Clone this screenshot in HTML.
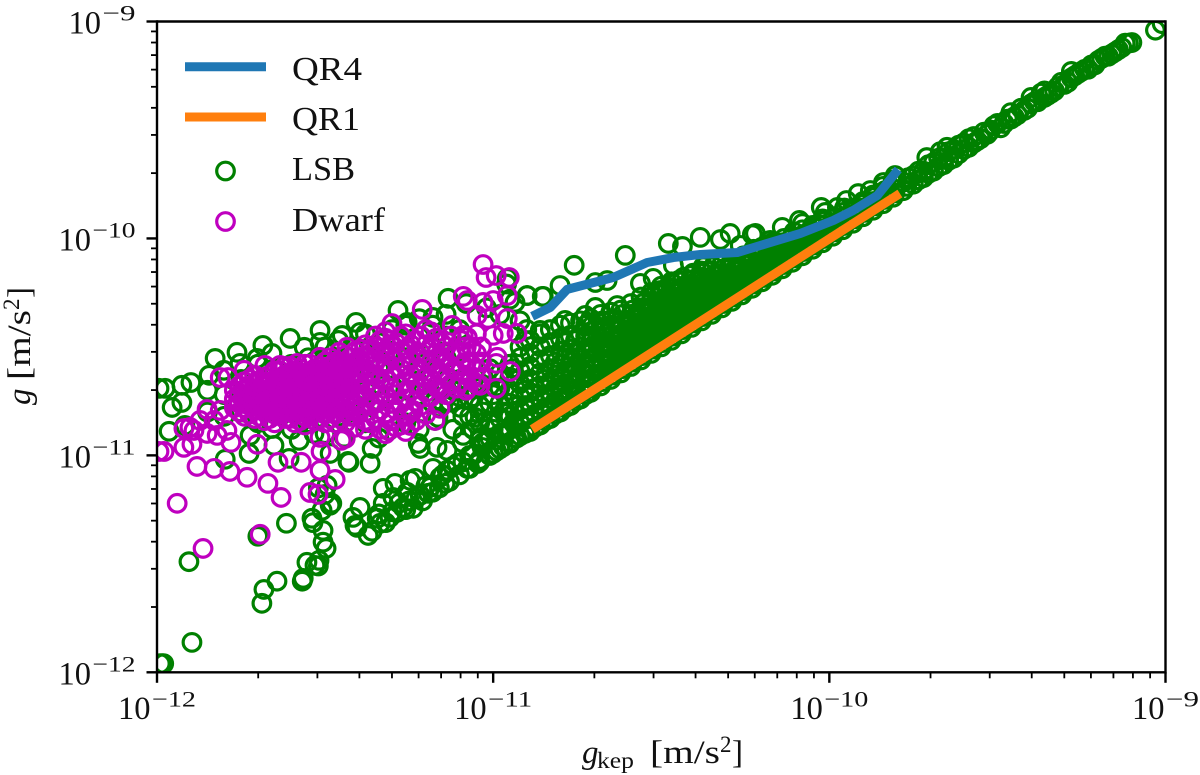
<!DOCTYPE html>
<html>
<head>
<meta charset="utf-8">
<title>g vs gkep</title>
<style>
html,body{margin:0;padding:0;background:#fff;}
svg{display:block;}
text{font-family:"Liberation Serif",serif;fill:#111;}
</style>
</head>
<body>
<svg id="chart" xmlns="http://www.w3.org/2000/svg" width="1200" height="775" viewBox="0 0 1200 775">
  <defs><clipPath id="plot-clip"><rect x="157" y="21.5" width="1008.5" height="650.8"/></clipPath></defs>
  <g id="lsb-layer" clip-path="url(#plot-clip)"></g>
  <g id="dwarf-layer" clip-path="url(#plot-clip)"></g>
  <g id="line-layer" clip-path="url(#plot-clip)"></g>
  <g id="axis-layer"></g>
  <g>
    <line x1="185" x2="266" y1="66.7" y2="66.7" stroke="#1f77b4" stroke-width="9"/>
    <text x="292" y="80" font-size="34" textLength="70" lengthAdjust="spacingAndGlyphs">QR4</text>
    <line x1="185" x2="266" y1="117" y2="117" stroke="#ff7f0e" stroke-width="9"/>
    <text x="292" y="130" font-size="34" textLength="68" lengthAdjust="spacingAndGlyphs">QR1</text>
    <circle cx="225.5" cy="171" r="8.8" fill="none" stroke="#008000" stroke-width="3.2"/>
    <text x="292" y="180" font-size="34" textLength="63" lengthAdjust="spacingAndGlyphs">LSB</text>
    <circle cx="225.5" cy="221.5" r="8.8" fill="none" stroke="#bf00bf" stroke-width="3.2"/>
    <text x="292" y="231" font-size="34" textLength="93" lengthAdjust="spacingAndGlyphs">Dwarf</text>
  </g>
  <g>
    <text x="582" y="763" font-size="33" font-style="italic">g</text>
    <text x="597" y="768" font-size="23" textLength="37" lengthAdjust="spacingAndGlyphs">kep</text>
    <text x="650" y="763" font-size="33" textLength="70" lengthAdjust="spacingAndGlyphs">[m/s</text>
    <text x="720" y="752" font-size="23">2</text>
    <text x="732" y="763" font-size="33">]</text>
  </g>
  <g transform="translate(30,405) rotate(-90)">
    <text x="0" y="0" font-size="33" font-style="italic">g</text>
    <text x="25" y="0" font-size="33" textLength="70" lengthAdjust="spacingAndGlyphs">[m/s</text>
    <text x="95" y="-11" font-size="23">2</text>
    <text x="107" y="0" font-size="33">]</text>
  </g>
</svg>
<script>
// All values are log10(acceleration / 1e-12 m/s^2).
const xDomain = [0, 3];
const yDomain = [0, 3];
const xTickValues = [0, 1, 2, 3];
const xTickExponents = ['\u221212', '\u221211', '\u221210', '\u22129'];
const yTickValues = [0, 1, 2, 3];
const yTickExponents = ['\u221212', '\u221211', '\u221210', '\u22129'];
const minorMultipliers = [2, 3, 4, 5, 6, 7, 8, 9];

const qr4LogGkep = [1.116,1.170,1.220,1.289,1.357,1.458,1.536,1.616,1.726,1.815,1.914,2.012,2.071,2.143,2.205];
const qr4LogG = [1.641,1.682,1.765,1.793,1.820,1.889,1.912,1.926,1.935,1.977,2.023,2.083,2.129,2.198,2.318];
const qr1LogGkep = [1.116,2.21];
const qr1LogG = [1.12,2.207];

const lsbLogGkep = [
.015,.02,.01,.104,.095,.30,.385,.357,.318,.312,
.435,.432,.446,.47,.48,.482,.464,.494,.494,.503,
.515,.52,.5,.48,
.568,.64,.634,.69,.777,.783,.833,.863,.911,.908,.946,.842,.836,
.583,.604,.589,.595,.628,.664,.655,.673,.673,.708,.702,.693,.732,.714,.762,.744,.768,.753,.783,.807,.813,.857,.842,.821,.863,.893,.923,.955,.967,1.0,1.05,.982,1.042,1.095,1.08,.991,1.02,.961,1.042,
.024,.006,.074,.101,.045,.074,.036,.083,.155,.173,.199,.238,.247,.315,.342,.298,.396,.438,.485,.485,.551,.592,
.604,.717,.744,.866,.821,1.101,1.065,1.146,1.042,.92,
.203,.274,.277,.348,.342,.393,.423,.571,.515,.506,.491,.461,.467,.586,.557,
.851,.87,.827,.902,
1.393,1.521,1.563,1.616,1.676,1.705,1.78,1.771,1.86,1.911,1.92,1.976,1.988,2.024,2.051,2.086,2.122,2.161,2.196,
1.241,1.199,1.149,1.101,1.304,1.339,1.476,1.536,1.551,1.369,1.304,1.438,1.497,1.586,1.735,1.824,1.214,1.274,1.348,1.095,1.14,1.229,
.96,.96,.96,.96,.96,
.99,.99,.99,.99,.99,.99,
1.02,1.02,1.02,1.02,1.02,1.02,
1.05,1.05,1.05,1.05,1.05,1.05,1.05,
.93,.93,.93,.90,.90,.90,.90,.86,.86,.86,.86,.82,.82,.82,.82,
.78,.78,.78,.78,.78,.74,.74,.74,.74,.70,.70,.70,.70,.66,.66,.66,.66,
.62,.62,.62,.62,.58,.58,.58,.54,.54,.54,.54,.50,.50,.50,.50,
.45,.45,.45,.40,.40,.40,.35,.35,.30,.30,.30,.25,.25,.2,.2,.15,.15,
1.04,1.02,1.08,.98,1.05,
1.08,1.08,1.08,1.08,1.08,1.08,1.08,
1.11,1.11,1.11,1.11,1.11,1.11,1.11,1.11,
1.14,1.14,1.14,1.14,1.14,1.14,1.14,1.14,
1.17,1.17,1.17,1.17,1.17,1.17,1.17,1.17,
1.20,1.20,1.20,1.20,1.20,1.20,1.20,1.20,
1.23,1.23,1.23,1.23,1.23,1.23,1.23,1.23,
1.26,1.26,1.26,1.26,1.26,1.26,1.26,1.26,
1.29,1.29,1.29,1.29,1.29,1.29,1.29,1.29,
1.32,1.32,1.32,1.32,1.32,1.32,1.32,1.32,
1.35,1.35,1.35,1.35,1.35,1.35,1.35,1.35,
1.38,1.38,1.38,1.38,1.38,1.38,1.38,1.38,
1.41,1.41,1.41,1.41,1.41,1.41,1.41,1.41,
1.44,1.44,1.44,1.44,1.44,1.44,1.44,1.44,
1.47,1.47,1.47,1.47,1.47,1.47,1.47,1.47,
1.50,1.50,1.50,1.50,1.50,1.50,1.50,1.50,
1.53,1.53,1.53,1.53,1.53,1.53,1.53,1.53,
1.56,1.56,1.56,1.56,1.56,1.56,1.56,
1.59,1.59,1.59,1.59,1.59,1.59,1.59,
1.62,1.62,1.62,1.62,1.62,1.62,1.62,
1.65,1.65,1.65,1.65,1.65,1.65,
1.68,1.68,1.68,1.68,1.68,1.68,
1.71,1.71,1.71,1.71,1.71,1.71,
1.74,1.74,1.74,1.74,1.74,
1.77,1.77,1.77,1.77,1.77,
1.80,1.80,1.80,1.80,1.80,
1.83,1.83,1.83,1.83,1.83,
1.86,1.86,1.86,1.86,
1.89,1.89,1.89,1.89,
1.92,1.92,1.92,1.92,
1.95,1.95,1.95,1.95,
1.98,1.98,1.98,1.98,
2.01,2.01,2.01,
2.04,2.04,2.04,
2.07,2.07,2.07,
2.10,2.10,2.10,
2.13,2.13,2.13,
2.16,2.16,2.16,
2.19,2.19,2.19,
2.22,2.22,2.25,2.25,2.28,2.28,2.31,2.31,2.34,2.34,2.37,2.37,2.40,2.40,
2.29,2.33,2.35,2.40,2.43,2.43,2.45,2.47,2.48,2.50,2.54,2.52,2.54,2.56,2.58,2.60,2.60,2.62,2.63,2.65,
2.66,2.68,2.70,2.72,2.74,2.72,2.76,2.77,2.79,2.80,2.82,2.84,2.85,2.87,2.88,2.90,2.97,2.99
];
const lsbLogG = [
.04,.04,.04,.138,.51,.627,.687,.42,.382,.318,
.433,.42,.507,.493,.49,.516,.69,.654,.60,.571,
.77,.779,.82,.85,
.972,1.032,.963,1.115,1.055,1.032,1.037,1.023,1.092,1.06,1.175,1.221,1.175,
.714,.76,.677,.668,.631,.687,.71,.779,.848,.871,.806,.714,.76,.737,.756,.83,.894,.885,.816,.825,.853,.871,.899,.94,.931,.963,.94,.963,1.037,1.009,1.055,1.069,1.115,1.101,1.147,1.147,1.101,1.083,1.194,
1.309,1.309,1.323,1.336,1.221,1.244,1.111,1.138,1.369,1.447,1.392,1.475,1.424,1.507,1.47,1.447,1.539,1.498,1.576,1.521,1.553,1.613,
1.567,1.668,1.613,1.724,1.636,1.737,1.705,1.733,1.816,1.70,
.982,1.009,1.092,1.046,1.124,.986,1.069,.968,1.009,.862,.747,.71,1.101,1.129,1.083,
1.24,1.245,1.161,1.221,
1.922,1.977,1.963,2.005,1.995,2.023,2.023,2.018,2.051,2.083,2.069,2.143,2.12,2.143,2.175,2.207,2.221,2.258,2.29,
1.876,1.783,1.733,1.737,1.797,1.806,1.816,1.876,1.806,1.691,1.682,1.793,1.76,1.889,1.968,1.991,1.622,1.645,1.6,1.53,1.576,1.553,
.98,1.07,1.15,1.23,1.31,
1.00,1.08,1.16,1.24,1.32,1.40,
1.03,1.10,1.17,1.24,1.31,1.38,
1.06,1.12,1.18,1.24,1.30,1.36,1.42,
1.00,1.18,1.26,1.27,1.35,1.48,1.58,1.31,1.45,1.55,1.65,1.24,1.38,1.50,1.60,
1.12,1.28,1.42,1.55,1.63,1.15,1.30,1.45,1.60,1.16,1.32,1.48,1.58,1.08,1.25,1.40,1.52,
1.15,1.30,1.45,1.56,1.20,1.38,1.50,1.18,1.30,1.44,1.53,1.10,1.25,1.40,1.50,
1.15,1.30,1.45,1.12,1.28,1.42,1.20,1.40,1.15,1.30,1.42,1.20,1.35,1.18,1.28,1.20,1.30,
1.79,1.65,1.62,1.68,1.72,
1.09,1.15,1.21,1.27,1.33,1.39,1.45,
1.11,1.17,1.23,1.29,1.35,1.41,1.47,1.53,
1.14,1.20,1.26,1.32,1.38,1.44,1.50,1.56,
1.17,1.22,1.28,1.34,1.40,1.46,1.52,1.58,
1.20,1.25,1.30,1.36,1.42,1.48,1.54,1.60,
1.23,1.28,1.33,1.38,1.43,1.49,1.55,1.61,
1.26,1.30,1.35,1.40,1.45,1.50,1.56,1.62,
1.29,1.33,1.37,1.42,1.47,1.52,1.57,1.63,
1.32,1.36,1.40,1.44,1.49,1.54,1.59,1.65,
1.35,1.39,1.43,1.47,1.51,1.55,1.60,1.66,
1.38,1.42,1.46,1.50,1.54,1.58,1.62,1.67,
1.41,1.45,1.49,1.53,1.57,1.61,1.65,1.70,
1.44,1.48,1.52,1.56,1.60,1.64,1.68,1.73,
1.47,1.51,1.55,1.59,1.63,1.67,1.71,1.75,
1.50,1.54,1.58,1.62,1.66,1.70,1.74,1.78,
1.53,1.57,1.61,1.65,1.69,1.73,1.77,1.80,
1.56,1.60,1.64,1.68,1.72,1.76,1.80,
1.59,1.63,1.67,1.71,1.75,1.79,1.83,
1.62,1.66,1.70,1.74,1.78,1.82,1.85,
1.65,1.69,1.73,1.77,1.81,1.85,
1.68,1.72,1.76,1.80,1.84,1.88,
1.71,1.75,1.79,1.83,1.87,1.90,
1.74,1.78,1.82,1.86,1.90,
1.77,1.81,1.85,1.89,1.93,
1.80,1.84,1.88,1.92,1.96,
1.83,1.87,1.91,1.95,1.98,
1.86,1.90,1.94,1.98,
1.89,1.93,1.97,2.01,
1.92,1.96,2.00,2.04,
1.95,1.99,2.03,2.06,
1.98,2.02,2.06,2.09,
2.01,2.05,2.09,
2.04,2.08,2.12,
2.07,2.11,2.14,
2.10,2.14,2.17,
2.13,2.17,2.20,
2.16,2.20,2.24,
2.19,2.23,2.27,
2.22,2.26,2.25,2.29,2.28,2.31,2.31,2.35,2.34,2.37,2.37,2.41,2.41,2.44,
2.373,2.40,2.42,2.44,2.44,2.47,2.46,2.48,2.50,2.53,2.58,2.53,2.55,2.57,2.59,2.62,2.65,2.63,2.67,2.66,
2.67,2.70,2.71,2.74,2.76,2.77,2.78,2.78,2.80,2.82,2.84,2.85,2.86,2.88,2.90,2.903,2.96,2.99
];

// Tightly packed LSB rings inside the saturated wedge and along the y = x ridge.
const lsbWedgeLogGkep = [
1.065,1.065,1.065,
1.095,1.095,1.095,1.095,
1.125,1.125,1.125,1.125,
1.155,1.155,1.155,1.155,
1.185,1.185,1.185,1.185,1.185,
1.215,1.215,1.215,1.215,1.215,1.215,
1.245,1.245,1.245,1.245,1.245,1.245,
1.275,1.275,1.275,1.275,1.275,1.275,1.275,
1.295,1.295,1.295,1.295,1.295,1.295,1.295,
1.325,1.325,1.325,1.325,1.325,1.325,1.325,
1.355,1.355,1.355,1.355,1.355,1.355,1.355,
1.385,1.385,1.385,1.385,1.385,1.385,1.385,
1.415,1.415,1.415,1.415,1.415,1.415,1.415,
1.445,1.445,1.445,1.445,1.445,1.445,1.445,
1.475,1.475,1.475,1.475,1.475,1.475,1.475,
1.505,1.505,1.505,1.505,1.505,1.505,1.505,
1.535,1.535,1.535,1.535,1.535,1.535,1.535,
1.565,1.565,1.565,1.565,1.565,1.565,1.565,
1.595,1.595,1.595,1.595,1.595,1.595,1.595,
1.625,1.625,1.625,1.625,1.625,1.625,1.625,
1.655,1.655,1.655,1.655,1.655,1.655,
1.685,1.685,1.685,1.685,1.685,1.685,
1.715,1.715,1.715,1.715,1.715,
1.745,1.745,1.745,1.745,1.745,
1.775,1.775,1.775,1.775,1.775,
1.805,1.805,1.805,1.805,
1.835,1.835,1.835,1.835,
1.865,1.865,1.865,1.865,
1.895,1.895,1.895,1.895,
1.925,1.925,1.925,
1.955,1.955,1.955,
1.985,1.985,1.985,
2.015,2.015,2.015,
2.045,2.045,2.045,
2.075,2.075,
2.105,2.105,
2.135,2.135,
2.165,2.165,
2.195,2.195,
2.23,2.235,2.265,2.265,2.295,2.295,2.325,2.325,2.355,2.355,2.385,2.385,2.415,2.415,
2.44,2.46,2.475,2.49,2.51,2.53,2.55,2.57,2.59,2.61,2.64,2.64,2.67,2.69,2.71,2.73,2.75,2.78,2.81,2.83,2.86,2.89,
.64,.66,.68,.70,.72,.74,.75,.77,.79,.80,.82,.84,.85,.87,.88,.90,.91,.93,.94,.96,.97,.99,1.01,1.01,1.03,1.03,1.05,1.07,1.07,
.94,.97,1.0,1.0,1.03,1.03,1.06,1.06,1.06,1.08,1.1,.97,.94,.91,.88,.88
];
const lsbWedgeLogG = [
1.08,1.14,1.20,
1.11,1.17,1.23,1.30,
1.13,1.19,1.25,1.31,
1.16,1.22,1.28,1.35,
1.19,1.25,1.31,1.37,1.43,
1.22,1.27,1.33,1.39,1.45,1.52,
1.25,1.30,1.35,1.41,1.47,1.53,
1.28,1.32,1.38,1.43,1.49,1.55,1.60,
1.31,1.35,1.40,1.45,1.50,1.55,1.60,
1.34,1.38,1.42,1.47,1.52,1.57,1.62,
1.37,1.41,1.45,1.49,1.53,1.58,1.63,
1.40,1.44,1.48,1.52,1.56,1.60,1.65,
1.43,1.47,1.51,1.55,1.59,1.63,1.67,
1.46,1.50,1.54,1.58,1.62,1.66,1.70,
1.49,1.53,1.57,1.61,1.65,1.69,1.73,
1.52,1.56,1.60,1.64,1.68,1.72,1.76,
1.55,1.59,1.63,1.67,1.71,1.75,1.79,
1.58,1.62,1.66,1.70,1.74,1.78,1.82,
1.61,1.65,1.69,1.73,1.77,1.81,1.84,
1.64,1.68,1.72,1.76,1.80,1.84,1.87,
1.67,1.71,1.75,1.79,1.83,1.87,
1.70,1.74,1.78,1.82,1.86,1.90,
1.73,1.77,1.81,1.85,1.89,
1.76,1.80,1.84,1.88,1.92,
1.79,1.83,1.87,1.91,1.95,
1.82,1.86,1.90,1.94,
1.85,1.89,1.93,1.97,
1.88,1.92,1.96,2.00,
1.91,1.95,1.99,2.03,
1.94,1.98,2.02,
1.97,2.01,2.05,
2.00,2.04,2.08,
2.03,2.07,2.10,
2.06,2.10,2.14,
2.09,2.13,
2.12,2.16,
2.15,2.19,
2.18,2.22,
2.21,2.25,
2.24,2.28,2.27,2.31,2.30,2.34,2.33,2.37,2.36,2.40,2.39,2.43,2.42,2.46,
2.45,2.49,2.49,2.52,2.51,2.55,2.56,2.60,2.60,2.63,2.65,2.68,2.68,2.72,2.72,2.75,2.77,2.80,2.83,2.84,2.87,2.90,
.65,.73,.69,.74,.78,.75,.79,.80,.79,.86,.83,.85,.91,.88,.95,.91,.97,.94,1.0,.97,1.06,1.0,1.02,1.07,1.04,1.10,1.06,1.08,1.13,
1.12,1.20,1.12,1.28,1.20,1.35,1.15,1.28,1.40,1.50,1.58,1.36,1.27,1.18,1.12,1.30
];

const dwarfLogGkep = [
.97,.979,1.009,1.048,1.042,.911,.923,.97,1.0,.789,.699,.878,.952,.985,1.042,.911,.923,1.0,1.03,1.071,
1.012,1.009,1.051,1.009,.961,.926,.836,.842,.827,.688,.753,.762,.619,.56,
.06,.021,.006,.08,.104,.08,.11,.149,.179,.149,.188,.119,.17,.217,.268,.33,.369,
.298,.36,.429,.485,.53,.455,.479,.488,.548,.485,.22,.208,.128,.17,.098,
.188,.211,.259,.321,.366,.417,.485,.565,.542,.307,.137,
.23,.23,.23,
.26,.26,.26,.26,.26,
.29,.29,.29,.29,.29,.29,
.32,.32,.32,.32,.32,.32,
.35,.35,.35,.35,.35,.35,.35,
.38,.38,.38,.38,.38,.38,.38,
.41,.41,.41,.41,.41,.41,.41,
.44,.44,.44,.44,.44,.44,.44,.44,
.47,.47,.47,.47,.47,.47,.47,
.50,.50,.50,.50,.50,.50,.50,.50,
.53,.53,.53,.53,.53,.53,.53,.53,
.56,.56,.56,.56,.56,.56,.56,.56,
.59,.59,.59,.59,.59,.59,.59,.59,
.62,.62,.62,.62,.62,.62,.62,
.65,.65,.65,.65,.65,.65,.65,
.68,.68,.68,.68,.68,.68,.68,.68,
.71,.71,.71,.71,.71,.71,
.74,.74,.74,.74,.74,.74,.74,
.77,.77,.77,.77,.77,.77,
.80,.80,.80,.80,.80,.80,
.83,.83,.83,.83,
.86,.86,.86,.86,
.89,.89,.89,
.92,.92,.92,.92,
.95,.95,.95,.95
];
const dwarfLogG = [
1.88,1.82,1.829,1.82,1.737,1.733,1.714,1.705,1.714,1.673,1.608,1.599,1.645,1.631,1.631,1.553,1.544,1.553,1.562,1.562,
1.452,1.424,1.387,1.309,1.323,1.313,1.309,1.217,1.161,1.115,1.138,1.207,1.161,1.078,
.779,1.018,1.018,1.037,1.051,1.124,1.115,1.101,1.092,1.212,1.207,.949,.94,.926,.899,.871,.806,
1.051,.968,.968,.931,.889,.829,.82,1.018,1.069,1.083,1.06,1.115,1.161,1.161,1.129,
1.359,1.359,1.392,1.415,1.415,1.424,1.452,1.498,1.475,.636,.571,
1.22,1.26,1.30,
1.18,1.22,1.26,1.30,1.34,
1.17,1.21,1.25,1.29,1.33,1.37,
1.16,1.20,1.24,1.28,1.32,1.36,
1.15,1.19,1.23,1.27,1.31,1.35,1.39,
1.17,1.21,1.25,1.29,1.33,1.37,1.41,
1.15,1.19,1.23,1.27,1.31,1.35,1.39,
1.14,1.18,1.22,1.26,1.30,1.34,1.38,1.42,
1.16,1.20,1.24,1.28,1.32,1.36,1.40,
1.15,1.19,1.23,1.27,1.31,1.35,1.39,1.43,
1.15,1.19,1.23,1.27,1.31,1.35,1.39,1.43,
1.15,1.20,1.25,1.29,1.33,1.37,1.41,1.46,
1.13,1.18,1.23,1.28,1.33,1.38,1.43,1.48,
1.12,1.20,1.27,1.33,1.40,1.46,1.51,
1.17,1.24,1.31,1.37,1.44,1.50,1.55,
1.10,1.19,1.27,1.35,1.42,1.48,1.54,1.57,
1.13,1.21,1.28,1.36,1.44,1.52,
1.11,1.18,1.26,1.34,1.41,1.49,1.56,
1.16,1.25,1.33,1.40,1.47,1.53,
1.19,1.29,1.36,1.44,1.51,1.58,
1.32,1.40,1.47,1.54,
1.28,1.36,1.43,1.50,
1.31,1.39,1.46,
1.30,1.37,1.43,1.50,
1.33,1.40,1.47,1.56
];

// Tightly packed Dwarf rings in the saturated core of the cloud.
const dwarfCoreLogGkep = [
.245,.245,.245,.245,
.275,.275,.275,.275,.275,
.305,.305,.305,.305,.305,
.335,.335,.335,.335,.335,.335,
.365,.365,.365,.365,.365,.365,
.395,.395,.395,.395,.395,.395,.395,
.425,.425,.425,.425,.425,.425,.425,
.455,.455,.455,.455,.455,.455,.455,
.485,.485,.485,.485,.485,.485,.485,
.515,.515,.515,.515,.515,.515,.515,.515,
.545,.545,.545,.545,.545,.545,.545,
.575,.575,.575,.575,.575,.575,.575,
.605,.605,.605,.605,.605,.605,
.635,.635,.635,.635,.635,.635,
.665,.665,.665,.665,.665,.665,.665,
.695,.695,.695,.695,.695,.695,
.725,.725,.725,.725,.725,.725,
.755,.755,.755,.755,.755,
.785,.785,.785,.785,.785,
.815,.815,.815,.815,.815,
.845,.845,.845,.845,
.875,.875,.875,.875,
.905,.905,.905,.905,
.935,.935,.935,
.965,.965,.965
];
const dwarfCoreLogG = [
1.20,1.24,1.28,1.32,
1.19,1.23,1.27,1.31,1.35,
1.18,1.22,1.26,1.30,1.34,
1.17,1.21,1.25,1.29,1.33,1.37,
1.19,1.23,1.27,1.31,1.35,1.39,
1.17,1.21,1.25,1.29,1.33,1.37,1.41,
1.16,1.20,1.24,1.28,1.32,1.36,1.40,
1.18,1.22,1.26,1.30,1.34,1.38,1.42,
1.17,1.21,1.25,1.29,1.33,1.37,1.41,
1.17,1.21,1.25,1.29,1.33,1.37,1.41,1.45,
1.17,1.22,1.27,1.31,1.35,1.39,1.43,
1.18,1.22,1.27,1.31,1.35,1.40,1.45,
1.22,1.28,1.33,1.38,1.44,1.49,
1.15,1.24,1.30,1.37,1.43,1.49,
1.12,1.21,1.28,1.35,1.41,1.47,1.53,
1.16,1.24,1.31,1.39,1.46,1.51,
1.14,1.24,1.32,1.40,1.48,1.55,
1.20,1.30,1.37,1.44,1.51,
1.23,1.32,1.39,1.47,1.55,
1.27,1.35,1.43,1.50,1.57,
1.30,1.38,1.45,1.52,
1.33,1.41,1.48,1.55,
1.34,1.41,1.47,1.53,
1.35,1.42,1.50,
1.36,1.43,1.50
];

const SVGNS = 'http://www.w3.org/2000/svg';
const plotLeft = 157, plotRight = 1165.5, plotTop = 21.5, plotBottom = 672.3;
function xScale(v) { return plotLeft + (v - xDomain[0]) / (xDomain[1] - xDomain[0]) * (plotRight - plotLeft); }
function yScale(v) { return plotBottom - (v - yDomain[0]) / (yDomain[1] - yDomain[0]) * (plotBottom - plotTop); }

const lsbLayer = document.getElementById('lsb-layer');
const dwarfLayer = document.getElementById('dwarf-layer');
const lineLayer = document.getElementById('line-layer');
const axisLayer = document.getElementById('axis-layer');

const lsbAllX = lsbLogGkep.concat(lsbWedgeLogGkep);
const lsbAllY = lsbLogG.concat(lsbWedgeLogG);
const dwarfAllX = dwarfLogGkep.concat(dwarfCoreLogGkep);
const dwarfAllY = dwarfLogG.concat(dwarfCoreLogG);

const lsbCount = Math.min(lsbAllX.length, lsbAllY.length);
for (let i = 0; i < lsbCount; i++) {
  const c = document.createElementNS(SVGNS, 'circle');
  
  
  c.setAttribute('cx', xScale(lsbAllX[i]));
  c.setAttribute('cy', yScale(lsbAllY[i]));
  c.setAttribute('r', 8.8);
  c.setAttribute('fill', 'none');
  c.setAttribute('stroke', '#008000');
  c.setAttribute('stroke-width', 3.2);
  lsbLayer.appendChild(c);
}
const dwarfCount = Math.min(dwarfAllX.length, dwarfAllY.length);
for (let i = 0; i < dwarfCount; i++) {
  const c = document.createElementNS(SVGNS, 'circle');
  
  
  c.setAttribute('cx', xScale(dwarfAllX[i]));
  c.setAttribute('cy', yScale(dwarfAllY[i]));
  c.setAttribute('r', 8.8);
  c.setAttribute('fill', 'none');
  c.setAttribute('stroke', '#bf00bf');
  c.setAttribute('stroke-width', 3.2);
  dwarfLayer.appendChild(c);
}

function linePoints(xs, ys) {
  return xs.map(function (v, i) { return xScale(v) + ',' + yScale(ys[i]); }).join(' ');
}
const qr4Line = document.createElementNS(SVGNS, 'polyline');


qr4Line.setAttribute('points', linePoints(qr4LogGkep, qr4LogG));
qr4Line.setAttribute('fill', 'none');
qr4Line.setAttribute('stroke', '#1f77b4');
qr4Line.setAttribute('stroke-width', 9);
qr4Line.setAttribute('stroke-linejoin', 'round');
lineLayer.appendChild(qr4Line);
const qr1Line = document.createElementNS(SVGNS, 'polyline');


qr1Line.setAttribute('points', linePoints(qr1LogGkep, qr1LogG));
qr1Line.setAttribute('fill', 'none');
qr1Line.setAttribute('stroke', '#ff7f0e');
qr1Line.setAttribute('stroke-width', 9);
lineLayer.appendChild(qr1Line);

function drawSegment(name, x1, y1, x2, y2, w) {
  const l = document.createElementNS(SVGNS, 'line');
  
  
  l.setAttribute('x1', x1);
  l.setAttribute('y1', y1);
  l.setAttribute('x2', x2);
  l.setAttribute('y2', y2);
  l.setAttribute('stroke', '#000');
  l.setAttribute('stroke-width', w);
  axisLayer.appendChild(l);
}
function drawText(name, x, y, size, str, len) {
  const t = document.createElementNS(SVGNS, 'text');
  
  
  t.setAttribute('x', x);
  t.setAttribute('y', y);
  t.setAttribute('font-size', size);
  t.setAttribute('textLength', len);
  t.setAttribute('lengthAdjust', 'spacingAndGlyphs');
  t.textContent = str;
  axisLayer.appendChild(t);
}

drawSegment('left-spine', plotLeft, plotTop - 1.2, plotLeft, plotBottom + 1.2, 2.4);
drawSegment('right-spine', plotRight, plotTop - 1.2, plotRight, plotBottom + 1.2, 2.4);
drawSegment('top-spine', plotLeft, plotTop, plotRight, plotTop, 2.4);
drawSegment('bottom-spine', plotLeft, plotBottom, plotRight, plotBottom, 2.4);

xTickValues.forEach(function (v, i) {
  const px = xScale(v);
  drawSegment('x-major-tick', px, plotBottom, px, plotBottom + 10.5, 2.4);
  const supW = xTickExponents[i].length > 2 ? 44 : 33;
  const total = 34 + supW;
  const start = px - total / 2;
  drawText('x-tick-label-base', start, plotBottom + 46.5, 33, '10', 32.5);
  drawText('x-tick-label-exponent', start + 34, plotBottom + 34, 22, xTickExponents[i], supW);
  if (i < xTickValues.length - 1) {
    minorMultipliers.forEach(function (m) {
      const mp = xScale(v + Math.log10(m));
      drawSegment('x-minor-tick', mp, plotBottom, mp, plotBottom + 6, 1.8);
    });
  }
});
yTickValues.forEach(function (v, i) {
  const py = yScale(v);
  drawSegment('y-major-tick', plotLeft - 10.5, py, plotLeft, py, 2.4);
  const supW = yTickExponents[i].length > 2 ? 43 : 33;
  const supX = 135.5 - supW;
  drawText('y-tick-label-base', supX - 34, py + 12, 33, '10', 32.5);
  drawText('y-tick-label-exponent', supX, py - 1, 22, yTickExponents[i], supW);
  if (i < yTickValues.length - 1) {
    minorMultipliers.forEach(function (m) {
      const mp = yScale(v + Math.log10(m));
      drawSegment('y-minor-tick', plotLeft - 6, mp, plotLeft, mp, 1.8);
    });
  }
});
</script>
</body>
</html>
